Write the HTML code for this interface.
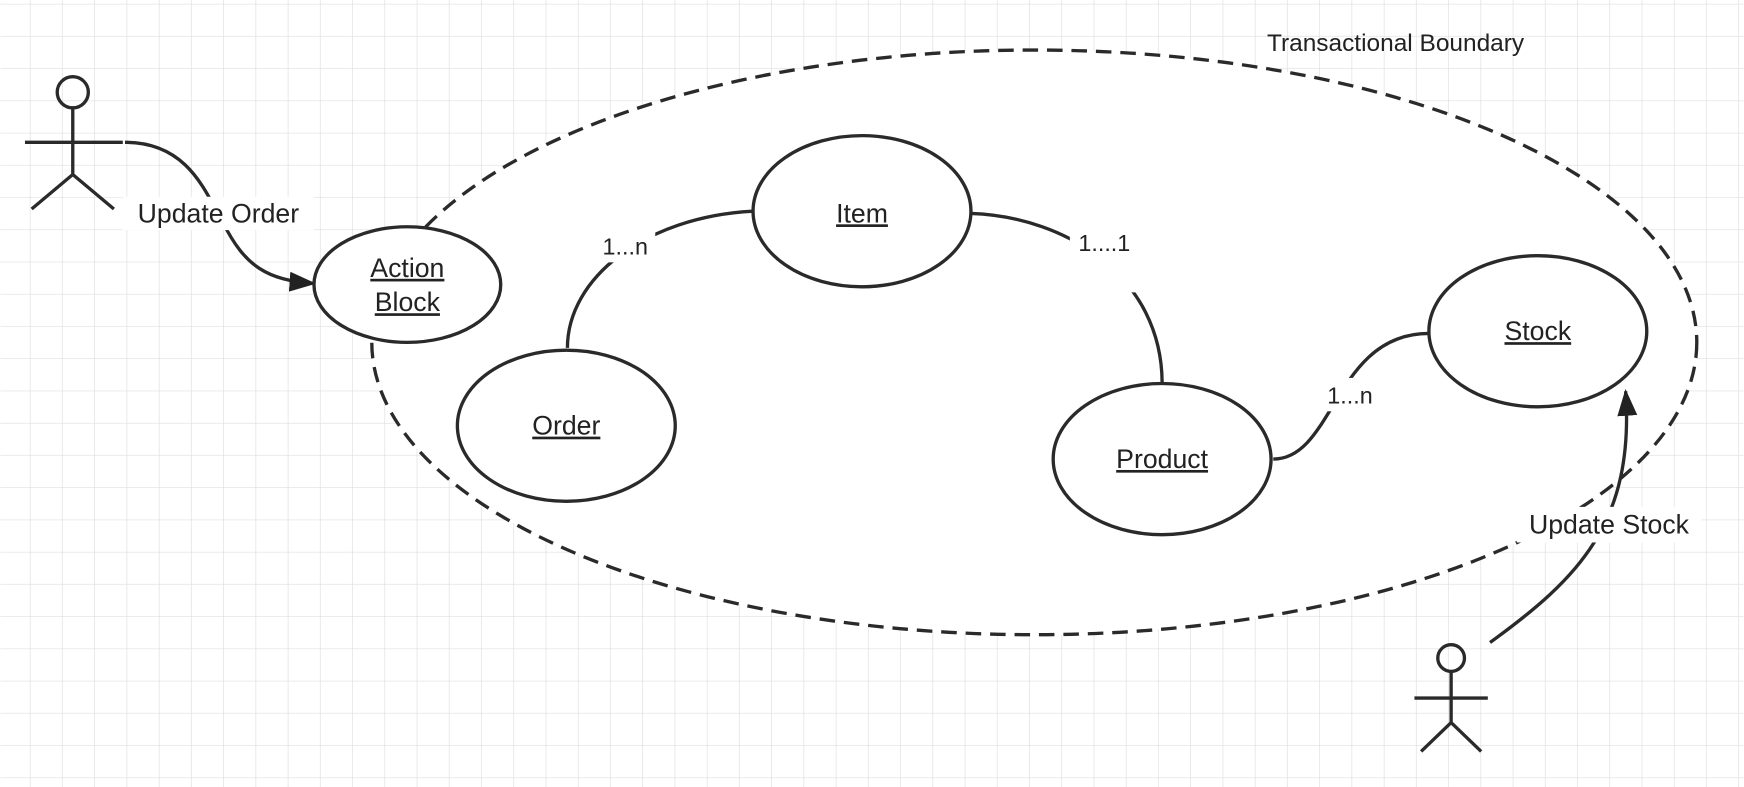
<!DOCTYPE html>
<html><head><style>html,body{margin:0;padding:0;background:#fff}svg{display:block}</style></head>
<body>
<svg width="1744" height="787" viewBox="0 0 1568 708" xmlns="http://www.w3.org/2000/svg" font-family="Liberation Sans, sans-serif">
<defs>
<pattern id="g" width="29" height="29" patternUnits="userSpaceOnUse" x="-2" y="4">
<path d="M29 0V29M0 29H29" fill="none" stroke="#dedede" stroke-width="1.2"/>
</pattern>
<marker id="a" markerWidth="24" markerHeight="20" refX="22" refY="9" orient="auto" markerUnits="userSpaceOnUse" viewBox="0 0 24 18">
<path d="M0,0 L24,9 L0,18 Z" fill="#222"/></marker>
</defs>
<rect width="1568" height="708" fill="url(#g)"/>
<g fill="none" stroke="#2a2a2a" stroke-width="3">
<ellipse cx="930" cy="308" rx="596" ry="263" fill="#fff" stroke-dasharray="14,8"/>
<path d="M510,313 C510,250 580,195 677,190"/>
<path d="M873,192 C960,195 1045,250 1045,345"/>
<path d="M1145,413 C1200,413 1200,300 1285,300"/>
<path d="M112,128 C170,128 185,175 200,200 C220,240 240,252 282,255" marker-end="url(#a)"/>
<path d="M1340,578 C1420,520 1470,470 1462,352" marker-end="url(#a)"/>
<ellipse cx="366" cy="256" rx="84" ry="52" fill="#fff"/>
<ellipse cx="775" cy="190" rx="98" ry="68" fill="#fff"/>
<ellipse cx="509" cy="383" rx="98" ry="68" fill="#fff"/>
<ellipse cx="1045" cy="413" rx="98" ry="68" fill="#fff"/>
<ellipse cx="1383" cy="298" rx="98" ry="68" fill="#fff"/>
<circle cx="65" cy="83" r="14"/>
<path d="M65,97V157M22,128H110M65,157L28,188M65,157L102,188"/>
<circle cx="1305" cy="592" r="12"/>
<path d="M1305,604V650M1272,628H1338M1305,650L1278,676M1305,650L1332,676"/>
</g>
<g fill="#fff">
<rect x="110" y="177" width="172" height="30"/>
<rect x="535" y="206" width="54" height="30"/>
<rect x="962" y="203" width="62" height="60"/>
<rect x="1188" y="340" width="52" height="30"/>
<rect x="1364" y="456" width="166" height="32"/>
</g>
<g font-size="24" fill="#222" text-anchor="middle">
<text x="196" y="200">Update Order</text>
<text x="1447" y="480">Update Stock</text>
<text x="1255" y="46" font-size="22">Transactional Boundary</text>
<text x="562" y="229" font-size="21">1...n</text>
<text x="993" y="226" font-size="21">1....1</text>
<text x="1214" y="363" font-size="21">1...n</text>
<g text-decoration="underline">
<text x="366" y="249">Action</text>
<text x="366" y="280">Block</text>
<text x="775" y="200">Item</text>
<text x="509" y="391">Order</text>
<text x="1045" y="421">Product</text>
<text x="1383" y="306">Stock</text>
</g>
</g>
</svg>
</body></html>
